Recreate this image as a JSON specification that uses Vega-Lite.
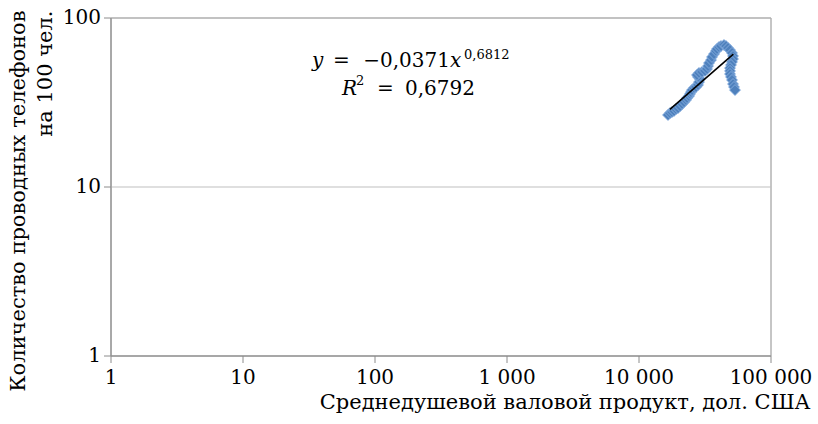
{
  "$schema": "https://vega.github.io/schema/vega-lite/v6.json",
  "width": 660,
  "height": 338,
  "autosize": {"type": "none"},
  "padding": {"left": 110.5, "top": 17.5, "right": 47.5, "bottom": 68.5},
  "background": "white",
  "config": {
    "font": "DejaVu Serif",
    "view": {"stroke": "#8c8c8c", "strokeWidth": 1},
    "text": {"font": "DejaVu Serif"},
    "axis": {
      "domainColor": "#8c8c8c",
      "tickColor": "#8c8c8c",
      "gridColor": "#bfbfbf",
      "labelColor": "#000000",
      "titleColor": "#000000",
      "labelFont": "DejaVu Serif",
      "titleFont": "DejaVu Serif",
      "labelFontSize": 20,
      "titleFontSize": 21,
      "titleFontWeight": "normal",
      "tickSize": 7
    }
  },
  "datasets": {
    "points": [
      {"gdp": 16730, "tel": 26.5},
      {"gdp": 17325, "tel": 27.2},
      {"gdp": 17940, "tel": 27.6},
      {"gdp": 18575, "tel": 28.0},
      {"gdp": 19240, "tel": 28.7},
      {"gdp": 19920, "tel": 29.1},
      {"gdp": 20630, "tel": 29.9},
      {"gdp": 21360, "tel": 30.8},
      {"gdp": 22120, "tel": 31.6},
      {"gdp": 22900, "tel": 32.5},
      {"gdp": 23310, "tel": 33.4},
      {"gdp": 24130, "tel": 34.3},
      {"gdp": 24560, "tel": 35.3},
      {"gdp": 24990, "tel": 36.2},
      {"gdp": 25430, "tel": 37.2},
      {"gdp": 26330, "tel": 38.3},
      {"gdp": 27270, "tel": 38.8},
      {"gdp": 28230, "tel": 39.9},
      {"gdp": 28730, "tel": 41.5},
      {"gdp": 29240, "tel": 43.3},
      {"gdp": 28230, "tel": 44.5},
      {"gdp": 27750, "tel": 45.7},
      {"gdp": 28730, "tel": 47.0},
      {"gdp": 30280, "tel": 47.6},
      {"gdp": 31900, "tel": 48.3},
      {"gdp": 33030, "tel": 49.6},
      {"gdp": 33620, "tel": 51.6},
      {"gdp": 34210, "tel": 53.8},
      {"gdp": 35430, "tel": 56.0},
      {"gdp": 36060, "tel": 58.4},
      {"gdp": 37330, "tel": 60.8},
      {"gdp": 38660, "tel": 63.4},
      {"gdp": 39340, "tel": 65.1},
      {"gdp": 40730, "tel": 66.9},
      {"gdp": 42170, "tel": 67.8},
      {"gdp": 44430, "tel": 68.8},
      {"gdp": 46020, "tel": 67.8},
      {"gdp": 47640, "tel": 66.0},
      {"gdp": 49340, "tel": 64.2},
      {"gdp": 51090, "tel": 61.7},
      {"gdp": 51990, "tel": 59.2},
      {"gdp": 51990, "tel": 56.8},
      {"gdp": 51090, "tel": 54.6},
      {"gdp": 50210, "tel": 52.4},
      {"gdp": 49340, "tel": 50.2},
      {"gdp": 49340, "tel": 48.3},
      {"gdp": 49340, "tel": 46.3},
      {"gdp": 50210, "tel": 44.5},
      {"gdp": 51090, "tel": 42.7},
      {"gdp": 51990, "tel": 40.4},
      {"gdp": 52900, "tel": 38.8},
      {"gdp": 53840, "tel": 37.2}
    ],
    "trend": [
      {"gdp": 17300, "tel": 28.6},
      {"gdp": 52300, "tel": 60.7}
    ],
    "labels": [
      {"kind": "itL", "t": "y", "gdp": 33.6, "tel": 50.6},
      {"kind": "normL", "t": "=", "gdp": 48.5, "tel": 50.6},
      {"kind": "normR", "t": "−0,0371", "gdp": 373.3, "tel": 50.6},
      {"kind": "itL", "t": "x", "gdp": 373.3, "tel": 50.6},
      {"kind": "sup", "t": "0,6812", "gdp": 476.4, "tel": 56.8},
      {"kind": "itL", "t": "R", "gdp": 56.7, "tel": 34.8},
      {"kind": "sup", "t": "2", "gdp": 72.4, "tel": 39.9},
      {"kind": "normL", "t": "=", "gdp": 104.4, "tel": 34.8},
      {"kind": "normR", "t": "0,6792", "gdp": 577.3, "tel": 34.8}
    ]
  },
  "encoding": {
    "x": {
      "field": "gdp",
      "type": "quantitative",
      "scale": {"type": "log", "domain": [1, 100000], "nice": false},
      "axis": {
        "values": [1, 10, 100, 1000, 10000, 100000],
        "labelExpr": "replace(format(datum.value, ','), ',', ' ')",
        "grid": false,
        "labelPadding": 5,
        "labelFlush": false,
        "labelOverlap": false,
        "title": "Среднедушевой валовой продукт, дол. США",
        "titleAlign": "right",
        "titleAnchor": "end",
        "titleX": 699.5,
        "titleY": 53,
        "titleBaseline": "alphabetic"
      }
    },
    "y": {
      "field": "tel",
      "type": "quantitative",
      "scale": {"type": "log", "domain": [1, 100], "nice": false},
      "axis": {
        "values": [1, 10, 100],
        "format": "d",
        "grid": true,
        "labelPadding": 3,
        "labelFlush": false,
        "labelOverlap": false,
        "title": ["Количество проводных телефонов", "на 100 чел."],
        "titleAngle": -90,
        "titleAlign": "right",
        "titleBaseline": "top",
        "titleX": -103,
        "titleY": -7.5,
        "titleLineHeight": 27
      }
    }
  },
  "layer": [
    {
      "data": {"name": "points"},
      "mark": {"type": "point", "shape": "diamond", "filled": true, "size": 121, "color": "#4f81bd", "stroke": "#8db3e2", "strokeWidth": 0.8, "opacity": 1}
    },
    {
      "data": {"name": "trend"},
      "mark": {"type": "line", "color": "#000000", "strokeWidth": 1.6}
    },
    {
      "data": {"name": "labels"},
      "transform": [{"filter": "datum.kind === 'itL'"}],
      "mark": {"type": "text", "align": "left", "baseline": "alphabetic", "fontSize": 20, "fontStyle": "italic", "font": "DejaVu Serif", "color": "#000000"},
      "encoding": {"text": {"field": "t"}}
    },
    {
      "data": {"name": "labels"},
      "transform": [{"filter": "datum.kind === 'normL'"}],
      "mark": {"type": "text", "align": "left", "baseline": "alphabetic", "fontSize": 20, "font": "DejaVu Serif", "color": "#000000"},
      "encoding": {"text": {"field": "t"}}
    },
    {
      "data": {"name": "labels"},
      "transform": [{"filter": "datum.kind === 'normR'"}],
      "mark": {"type": "text", "align": "right", "baseline": "alphabetic", "fontSize": 20, "font": "DejaVu Serif", "color": "#000000"},
      "encoding": {"text": {"field": "t"}}
    },
    {
      "data": {"name": "labels"},
      "transform": [{"filter": "datum.kind === 'sup'"}],
      "mark": {"type": "text", "align": "left", "baseline": "alphabetic", "fontSize": 13, "font": "DejaVu Serif", "color": "#000000"},
      "encoding": {"text": {"field": "t"}}
    }
  ]
}
